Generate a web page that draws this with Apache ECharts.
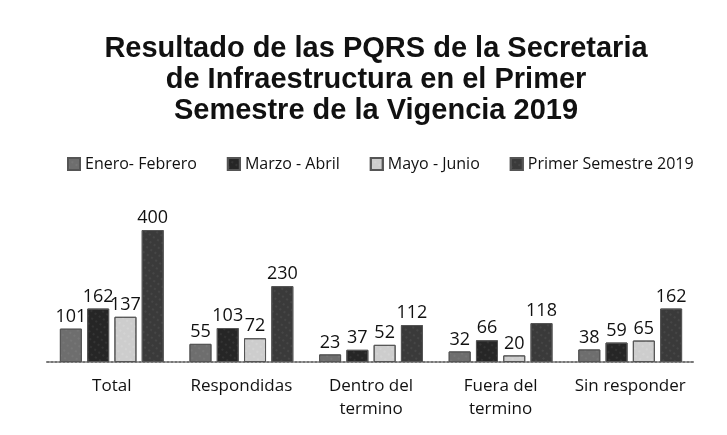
<!DOCTYPE html>
<html>
<head>
<meta charset="utf-8">
<script src="https://cdn.jsdelivr.net/npm/echarts@6/dist/echarts.min.js"></script>
<style>
  html, body { margin: 0; padding: 0; background: #fff; }
  #chart { width: 727px; height: 435px; }
</style>
</head>
<body>
<div id="chart"></div>
<script>
var categories = ['Total', 'Respondidas', 'Dentro del\ntermino', 'Fuera del\ntermino', 'Sin responder'];
var seriesNames = ['Enero- Febrero', 'Marzo - Abril', 'Mayo - Junio', 'Primer Semestre 2019'];
var eneroFebrero = [101, 55, 23, 32, 38];
var marzoAbril = [162, 103, 37, 66, 59];
var mayoJunio = [137, 72, 52, 20, 65];
var primerSemestre = [400, 230, 112, 118, 162];

var colors = ['#6e6e6e', '#262626', '#cdcdcd', '#3a3a3a'];
var allValues = [eneroFebrero, marzoAbril, mayoJunio, primerSemestre];

var chart = echarts.init(document.getElementById('chart'));

var series = allValues.map(function(vals, i){
  return {
    name: seriesNames[i],
    type: 'bar',
    data: vals,
    barWidth: 22,
    barGap: '24%',
    itemStyle: {
      color: colors[i],
      borderColor: '#555',
      borderWidth: 1,
      decal: {
        symbol: 'rect',
        symbolSize: 0.5,
        dashArrayX: [2, 3],
        dashArrayY: [2, 4],
        rotation: 0.6,
        color: i == 2 ? 'rgba(255,255,255,0.5)' : 'rgba(200,200,200,0.35)'
      }
    },
    label: {
      show: true,
      position: 'top',
      distance: 3,
      color: '#111',
      fontFamily: 'Open Sans',
      fontSize: 18
    }
  };
});

chart.setOption({
  animation: false,
  title: {
    text: 'Resultado de las PQRS de la Secretaria\nde Infraestructura en el Primer\nSemestre de la Vigencia 2019',
    left: 371,
    textAlign: 'center',
    top: 28,
    textStyle: {
      fontFamily: 'Liberation Sans',
      fontWeight: 'bold',
      fontSize: 29,
      lineHeight: 31,
      color: '#111'
    }
  },
  legend: {
    top: 151,
    left: 62,
    icon: 'rect',
    itemWidth: 12,
    itemHeight: 12,
    itemGap: 30,
    textStyle: { fontFamily: 'Open Sans', fontSize: 16, color: '#111' },
    data: seriesNames
  },
  grid: { left: 47, right: 32, top: 230, bottom: 73 },
  xAxis: {
    type: 'category',
    data: categories,
    axisTick: { show: false },
    axisLine: { lineStyle: { color: '#777', type: 'dotted', width: 2 } },
    axisLabel: {
      interval: 0,
      margin: 13,
      fontFamily: 'Open Sans',
      fontSize: 17,
      lineHeight: 23,
      color: '#111'
    }
  },
  yAxis: {
    type: 'value',
    min: 0,
    max: 400,
    show: false
  },
  series: series
});
</script>
</body>
</html>
